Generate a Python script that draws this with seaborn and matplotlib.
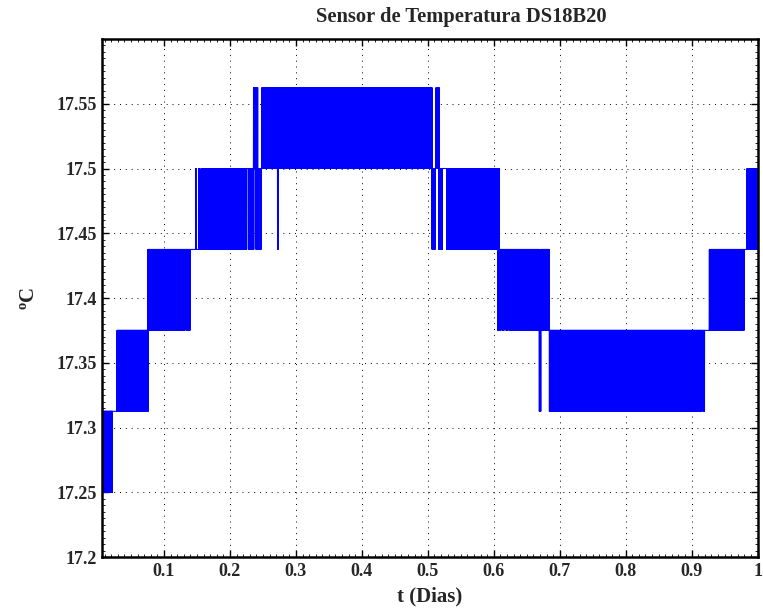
import numpy as np
import pandas as pd
import matplotlib
matplotlib.use("Agg")
import matplotlib.pyplot as plt
from matplotlib.ticker import MultipleLocator, FixedLocator
import seaborn as sns

# DS18B20 quantisation levels (1/16 degC steps)
quant_levels = [17.25, 17.3125, 17.375, 17.4375, 17.5, 17.5625]

# Start time (days) of each stretch of readings; each stretch ends where the next begins
seg_start = [0.0060, 0.0152, 0.0162, 0.0217, 0.0288, 0.0758, 0.1319, 0.1344,
             0.1395, 0.1480, 0.1492, 0.1525, 0.1545, 0.1572, 0.1590, 0.1605,
             0.2254, 0.2285, 0.2354, 0.2365, 0.2389, 0.2421, 0.2471, 0.2486,
             0.2683, 0.2699, 0.2716, 0.2732, 0.5064, 0.5109, 0.5124, 0.5170,
             0.5220, 0.5287, 0.6004, 0.6060, 0.6080, 0.6095, 0.6110, 0.6136,
             0.6155, 0.6186, 0.6205, 0.6231, 0.6690, 0.6712, 0.6842, 0.9157,
             0.9180, 0.9195, 0.9268, 0.9794, 0.9839]
t_end = 1.0

# Sequence of level indices the sensor flickers through in each stretch
seg_cycle = ["01", "1", "01", "1", "12", "23", "3", "23",
             "3", "34", "3", "34", "3", "34", "3", "34",
             "4", "34", "3454", "45", "3454", "34", "4", "45",
             "4", "45", "3454", "45", "34", "4", "45", "34",
             "4", "34", "4333", "2343", "3", "23", "3", "23",
             "3", "23", "3", "23", "12", "23", "12", "2",
             "12", "2", "23", "3", "34"]

# One reading every 15 s
samples_per_day = 5760

k = np.arange(int(np.ceil(seg_start[0] * samples_per_day)),
              int(t_end * samples_per_day) + 1)
t = k / samples_per_day
seg_idx = np.clip(np.searchsorted(seg_start, t, side="right") - 1, 0, len(seg_start) - 1)
temp = np.array([quant_levels[int(seg_cycle[s][i % len(seg_cycle[s])])]
                 for s, i in zip(seg_idx, k)])
df = pd.DataFrame({"t": t, "temp": temp})

sns.set_style("white")
plt.rcParams["font.family"] = ["Liberation Serif", "DejaVu Serif"]
plt.rcParams["font.weight"] = "bold"
plt.rcParams["mathtext.fontset"] = "custom"
plt.rcParams["mathtext.rm"] = "Liberation Serif:bold"
plt.rcParams["mathtext.bf"] = "Liberation Serif:bold"
plt.rcParams["mathtext.it"] = "Liberation Serif:bold"

fig = plt.figure(figsize=(7.63, 6.13), dpi=100)
ax = fig.add_axes([102 / 763, 1 - 557 / 613, (757.6 - 102) / 763, (557 - 39) / 613])

sns.lineplot(data=df, x="t", y="temp", ax=ax, color=(0, 0, 1), lw=0.8,
             estimator=None, sort=False)

ax.set_xlim(seg_start[0], 1.0)
ax.set_ylim(17.2, 17.6)

xt = [0.1, 0.2, 0.3, 0.4, 0.5, 0.6, 0.7, 0.8, 0.9, 1.0]
xt_lab = ["0.1", "0.2", "0.3", "0.4", "0.5", "0.6", "0.7", "0.8", "0.9", "1"]
yt = [17.2, 17.25, 17.3, 17.35, 17.4, 17.45, 17.5, 17.55]
yt_lab = ["17.2", "17.25", "17.3", "17.35", "17.4", "17.45", "17.5", "17.55"]
ax.xaxis.set_major_locator(FixedLocator(xt))
ax.set_xticklabels(xt_lab)
ax.yaxis.set_major_locator(FixedLocator(yt))
ax.set_yticklabels(yt_lab)
ax.xaxis.set_minor_locator(MultipleLocator(0.01))
ax.yaxis.set_minor_locator(MultipleLocator(0.005))

ax.tick_params(which="both", direction="in", top=True, right=True,
               bottom=True, left=True, color="black")
ax.tick_params(which="major", length=5, width=1.0, labelsize=13, pad=4)
ax.tick_params(which="minor", length=2.5, width=0.6)
for lab in ax.get_xticklabels() + ax.get_yticklabels():
    lab.set_fontweight("bold")

ax.grid(True, which="major", color="black", linestyle=(0, (1, 5)), lw=0.7)
for sp in ax.spines.values():
    sp.set_visible(True)
    sp.set_color("black")
    sp.set_linewidth(1.8)

ax.set_xlabel("t (Dias)", fontsize=15, fontweight="bold", labelpad=5)
ax.set_ylabel(r"$^{\mathrm{o}}$C", fontsize=15, fontweight="bold", labelpad=12)
fig.text(461 / 763, 1 - 17 / 613, "Sensor de Temperatura DS18B20",
         ha="center", va="center", fontsize=14.8, fontweight="bold")

fig.savefig("out.png", dpi=100)
